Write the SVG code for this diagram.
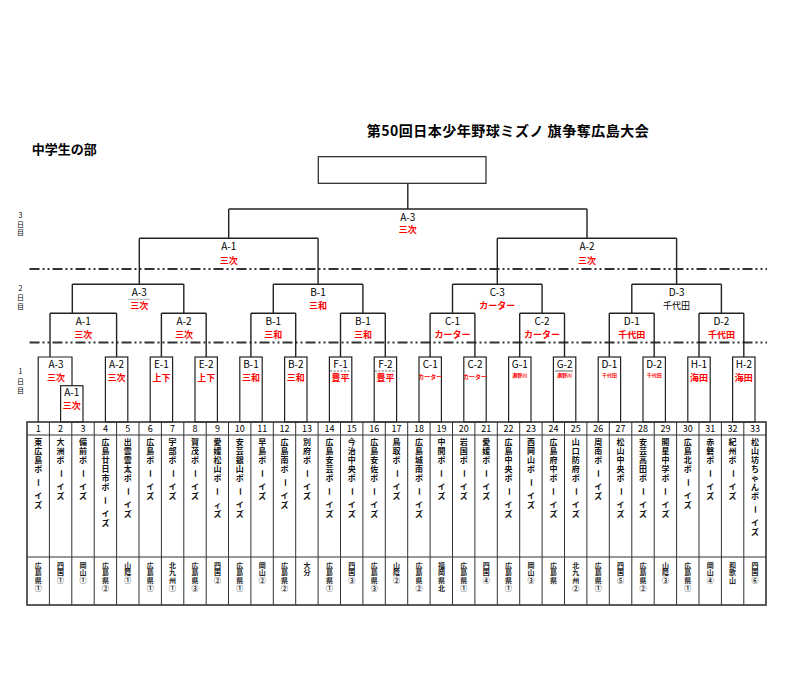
<svg xmlns="http://www.w3.org/2000/svg" width="800" height="687" viewBox="0 0 800 687">
<style>
text{font-family:"Noto Sans CJK JP","Noto Sans",sans-serif}
.ln{stroke:#222;stroke-width:1.4;fill:none}
.bx{stroke:#222;stroke-width:1.2;fill:none}
.dd{stroke:#333;stroke-width:1.8;stroke-dasharray:10 3 2 3 2 3;fill:none}
.tb{stroke:#333;stroke-width:1;fill:none}
.lb{font-size:10px;text-anchor:middle;fill:#000}
.bk{font-size:9px;text-anchor:middle;fill:#000}
.rd{font-size:9px;font-weight:bold;text-anchor:middle;fill:#f00}
.rs{font-size:6px;font-weight:bold;text-anchor:middle;fill:#f00}
.rx{font-size:5px;font-weight:bold;text-anchor:middle;fill:#f00}
.nm{font-size:9px;text-anchor:middle;fill:#000}
.tm{font-size:8px;font-weight:bold;text-anchor:middle;fill:#111}
.pf{font-size:7px;font-weight:bold;text-anchor:middle;fill:#222}
.dy{font-size:7px;text-anchor:middle;fill:#000}
</style>
<rect width="800" height="687" fill="#fff"/>
<text x="366.7" y="136" font-size="14" font-weight="bold" textLength="282" lengthAdjust="spacing">第50回日本少年野球ミズノ 旗争奪広島大会</text>
<text x="31.7" y="154" font-size="13" font-weight="bold" textLength="65" lengthAdjust="spacing">中学生の部</text>
<text class="dy" x="20.5 20.5 20.5" y="217.5 226.5 235">3日目</text>
<text class="dy" x="20.5 20.5 20.5" y="290.8 299.5 309">2日目</text>
<text class="dy" x="20.5 20.5 20.5" y="374 383.5 392.5">1日目</text>
<line class="dd" x1="29.5" y1="269" x2="767" y2="269"/>
<line class="dd" x1="29.5" y1="342.5" x2="767" y2="342.5"/>

<g id="connectors" class="ln">
<path d="M407.8,183.3V209M228.7,209H587M228.7,209V238.3M587,209V238.3M139.3,238.3H318.1M497.3,238.3H676.6M139.3,238.3V284.3M318.1,238.3V284.3M497.3,238.3V284.3M676.6,238.3V284.3"/>
<path d="M72.3,284.3H183.8M273.3,284.3H362.9M452.5,284.3H542.1M631.8,284.3H721.4M72.3,284.3V313.3M183.8,284.3V313.3M273.3,284.3V313.3M362.9,284.3V313.3M452.5,284.3V313.3M542.1,284.3V313.3M631.8,284.3V313.3M721.4,284.3V313.3"/>
<path d="M50,313.3H116.6M161.4,313.3H206.2M250.9,313.3H295.7M340.5,313.3H385.3M430.1,313.3H474.9M519.7,313.3H564.5M609.3,313.3H654.2M699,313.3H743.8"/>
<path d="M50,313.3V357M116.6,313.3V357M161.4,313.3V357M206.2,313.3V357M250.9,313.3V357M295.7,313.3V357M340.5,313.3V357M385.3,313.3V357M430.1,313.3V357M474.9,313.3V357M519.7,313.3V357M564.5,313.3V357M609.3,313.3V357M654.2,313.3V357M699,313.3V357M743.8,313.3V357"/>
</g>

<g id="final"><rect class="bx" x="318.3" y="156.7" width="167.7" height="26.6"/></g>
<g id="m3-A3"><text class="lb" x="407.8" y="220.5">A-3</text><text class="rd" x="407.8" y="233">三次</text></g>
<g id="m3-A1"><text class="lb" x="228.7" y="249.5">A-1</text><text class="rd" x="228.7" y="264">三次</text></g>
<g id="m3-A2"><text class="lb" x="587" y="249.5">A-2</text><text class="rd" x="587" y="264">三次</text></g>

<g id="m2u-A3"><text class="lb" x="139.3" y="295.5">A-3</text><line x1="128" y1="299.3" x2="150" y2="299.3" stroke="#999" stroke-width="0.8"/><text class="rd" x="139.3" y="308.5">三次</text></g>
<g id="m2u-B1"><text class="lb" x="318.1" y="295.5">B-1</text><text class="rd" x="318.1" y="308.5">三和</text></g>
<g id="m2u-C3"><text class="lb" x="497.3" y="295.5">C-3</text><text class="rd" x="497.3" y="308.5">カーター</text></g>
<g id="m2u-D3"><text class="lb" x="676.6" y="295.5">D-3</text><text class="bk" x="676.6" y="308.5">千代田</text></g>

<g id="m2-A1"><text class="lb" x="83.3" y="324.5">A-1</text><text class="rd" x="83.3" y="337.5">三次</text></g>
<g id="m2-A2"><text class="lb" x="184" y="324.5">A-2</text><text class="rd" x="184" y="337.5">三次</text></g>
<g id="m2-B1a"><text class="lb" x="273.3" y="324.5">B-1</text><text class="rd" x="273.3" y="337.5">三和</text></g>
<g id="m2-B1b"><text class="lb" x="362.9" y="324.5">B-1</text><text class="rd" x="362.9" y="337.5">三和</text></g>
<g id="m2-C1"><text class="lb" x="452.5" y="324.5">C-1</text><text class="rd" x="452.5" y="337.5">カーター</text></g>
<g id="m2-C2"><text class="lb" x="542.1" y="324.5">C-2</text><text class="rd" x="542.1" y="337.5">カーター</text></g>
<g id="m2-D1"><text class="lb" x="631.8" y="324.5">D-1</text><text class="rd" x="631.8" y="337.5">千代田</text></g>
<g id="m2-D2"><text class="lb" x="721.4" y="324.5">D-2</text><text class="rd" x="721.4" y="337.5">千代田</text></g>

<g id="r1-A3"><path class="bx" d="M38.2,422V357H72V385.7"/><text class="lb" x="56" y="367.5">A-3</text><text class="rd" x="56" y="380.5">三次</text></g>
<g id="r1-A1"><rect class="bx" x="60.6" y="385.7" width="22.4" height="36.3"/><text class="lb" x="71.8" y="396">A-1</text><text class="rd" x="71.8" y="408.5">三次</text></g>
<g id="r1-A2"><rect class="bx" x="105.4" y="357" width="22.4" height="65"/><text class="lb" x="116.6" y="367.5">A-2</text><text class="rd" x="116.6" y="380.5">三次</text></g>
<g id="r1-E1"><rect class="bx" x="150.2" y="357" width="22.4" height="65"/><text class="lb" x="161.4" y="367.5">E-1</text><text class="rd" x="161.4" y="380.5">上下</text></g>
<g id="r1-E2"><rect class="bx" x="195" y="357" width="22.4" height="65"/><text class="lb" x="206.2" y="367.5">E-2</text><text class="rd" x="206.2" y="380.5">上下</text></g>
<g id="r1-B1"><rect class="bx" x="239.8" y="357" width="22.4" height="65"/><text class="lb" x="251" y="367.5">B-1</text><text class="rd" x="251" y="380.5">三和</text></g>
<g id="r1-B2"><rect class="bx" x="284.6" y="357" width="22.4" height="65"/><text class="lb" x="295.8" y="367.5">B-2</text><text class="rd" x="295.8" y="380.5">三和</text></g>
<g id="r1-F1"><rect class="bx" x="329.4" y="357" width="22.4" height="65"/><text class="lb" x="340.6" y="367.5">F-1</text><line x1="330" y1="371" x2="351.2" y2="371" stroke="#666" stroke-width="1" stroke-dasharray="2 1.5"/><text class="rd" x="340.6" y="380.5">豊平</text></g>
<g id="r1-F2"><rect class="bx" x="374.2" y="357" width="22.4" height="65"/><text class="lb" x="385.4" y="367.5">F-2</text><line x1="374.8" y1="371" x2="396" y2="371" stroke="#666" stroke-width="1" stroke-dasharray="2 1.5"/><text class="rd" x="385.4" y="380.5">豊平</text></g>
<g id="r1-C1"><rect class="bx" x="419" y="357" width="22.4" height="65"/><text class="lb" x="430.2" y="367.5">C-1</text><text class="rs" x="430.2" y="378.8">カーター</text></g>
<g id="r1-C2"><rect class="bx" x="463.8" y="357" width="22.4" height="65"/><text class="lb" x="475" y="367.5">C-2</text><text class="rs" x="475" y="378.8">カーター</text></g>
<g id="r1-G1"><rect class="bx" x="508.6" y="357" width="22.4" height="65"/><text class="lb" x="519.8" y="367.5">G-1</text><text class="rx" x="519.8" y="377.3">瀬野川</text></g>
<g id="r1-G2"><rect class="bx" x="553.4" y="357" width="22.4" height="65"/><text class="lb" x="564.6" y="367.5">G-2</text><line x1="555" y1="371" x2="573" y2="371" stroke="#444" stroke-width="0.8"/><text class="rx" x="564.6" y="377.3">瀬野川</text></g>
<g id="r1-D1"><rect class="bx" x="598.2" y="357" width="22.4" height="65"/><text class="lb" x="609.4" y="367.5">D-1</text><text class="rx" x="609.4" y="377.3">千代田</text></g>
<g id="r1-D2"><rect class="bx" x="643" y="357" width="22.4" height="65"/><text class="lb" x="654.2" y="367.5">D-2</text><text class="rx" x="654.2" y="377.3">千代田</text></g>
<g id="r1-H1"><rect class="bx" x="687.8" y="357" width="22.4" height="65"/><text class="lb" x="699" y="367.5">H-1</text><text class="rd" x="699" y="380.5">海田</text></g>
<g id="r1-H2"><rect class="bx" x="732.6" y="357" width="22.4" height="65"/><text class="lb" x="743.8" y="367.5">H-2</text><text class="rd" x="743.8" y="380.5">海田</text></g>

<g id="table" class="tb">
<rect x="27" y="422" width="739" height="183" stroke-width="1.6"/>
<path d="M27,435H766M27,557H766M49.4,422V605M71.8,422V605M94.2,422V605M116.6,422V605M139,422V605M161.4,422V605M183.8,422V605M206.2,422V605M228.5,422V605M250.9,422V605M273.3,422V605M295.7,422V605M318.1,422V605M340.5,422V605M362.9,422V605M385.3,422V605M407.7,422V605M430.1,422V605M452.5,422V605M474.9,422V605M497.3,422V605M519.7,422V605M542.1,422V605M564.5,422V605M586.9,422V605M609.3,422V605M631.8,422V605M654.2,422V605M676.6,422V605M699,422V605M721.4,422V605M743.8,422V605"/>
</g>

<g id="team-1" transform="translate(38.2,0)"><text class="nm" x="0" y="432">1</text><text class="tm" x="0 0 0 0 1 0 0" y="445 454 463 472 478.5 499 508" rotate="0 0 0 0 90 0 0">東広島ボーイズ</text><text class="pf" x="0 0 0 0" y="567.6 575.3 583 590.6">広島県①</text></g>
<g id="team-2" transform="translate(60.6,0)"><text class="nm" x="0" y="432">2</text><text class="tm" x="0 0 0 1 0 0" y="445 454 463 469.5 490 499" rotate="0 0 0 90 0 0">大洲ボーイズ</text><text class="pf" x="0 0 0" y="567.6 575.3 583">四国①</text></g>
<g id="team-3" transform="translate(83,0)"><text class="nm" x="0" y="432">3</text><text class="tm" x="0 0 0 1 0 0" y="445 454 463 469.5 490 499" rotate="0 0 0 90 0 0">備前ボーイズ</text><text class="pf" x="0 0 0" y="567.6 575.3 583">岡山①</text></g>
<g id="team-4" transform="translate(105.4,0)"><text class="nm" x="0" y="432">4</text><text class="tm" x="0 0 0 0 0 0 1 0 0" y="445 454 463 472 481 490 496.5 517 526" rotate="0 0 0 0 0 0 90 0 0">広島廿日市ボーイズ</text><text class="pf" x="0 0 0 0" y="567.6 575.3 583 590.6">広島県②</text></g>
<g id="team-5" transform="translate(127.8,0)"><text class="nm" x="0" y="432">5</text><text class="tm" x="0 0 0 0 0 1 0 0" y="445 454 463 472 481 487.5 508 517" rotate="0 0 0 0 0 90 0 0">出雲雲太ボーイズ</text><text class="pf" x="0 0 0" y="567.6 575.3 583">山陰①</text></g>
<g id="team-6" transform="translate(150.2,0)"><text class="nm" x="0" y="432">6</text><text class="tm" x="0 0 0 1 0 0" y="445 454 463 469.5 490 499" rotate="0 0 0 90 0 0">広島ボーイズ</text><text class="pf" x="0 0 0 0" y="567.6 575.3 583 590.6">広島県①</text></g>
<g id="team-7" transform="translate(172.6,0)"><text class="nm" x="0" y="432">7</text><text class="tm" x="0 0 0 1 0 0" y="445 454 463 469.5 490 499" rotate="0 0 0 90 0 0">宇部ボーイズ</text><text class="pf" x="0 0 0 0" y="567.6 575.3 583 590.6">北九州①</text></g>
<g id="team-8" transform="translate(195,0)"><text class="nm" x="0" y="432">8</text><text class="tm" x="0 0 0 1 0 0" y="445 454 463 469.5 490 499" rotate="0 0 0 90 0 0">賀茂ボーイズ</text><text class="pf" x="0 0 0 0" y="567.6 575.3 583 590.6">広島県③</text></g>
<g id="team-9" transform="translate(217.4,0)"><text class="nm" x="0" y="432">9</text><text class="tm" x="0 0 0 0 0 1 0 0" y="445 454 463 472 481 487.5 508 517" rotate="0 0 0 0 0 90 0 0">愛媛松山ボーィズ</text><text class="pf" x="0 0 0" y="567.6 575.3 583">四国②</text></g>
<g id="team-10" transform="translate(239.8,0)"><text class="nm" x="0" y="432">10</text><text class="tm" x="0 0 0 0 0 1 0 0" y="445 454 463 472 481 487.5 508 517" rotate="0 0 0 0 0 90 0 0">安芸銀山ボーイズ</text><text class="pf" x="0 0 0 0" y="567.6 575.3 583 590.6">広島県①</text></g>
<g id="team-11" transform="translate(262.2,0)"><text class="nm" x="0" y="432">11</text><text class="tm" x="0 0 0 1 0 0" y="445 454 463 469.5 490 499" rotate="0 0 0 90 0 0">早島ボーイズ</text><text class="pf" x="0 0 0" y="567.6 575.3 583">岡山②</text></g>
<g id="team-12" transform="translate(284.6,0)"><text class="nm" x="0" y="432">12</text><text class="tm" x="0 0 0 0 1 0 0" y="445 454 463 472 478.5 499 508" rotate="0 0 0 0 90 0 0">広島南ボーイズ</text><text class="pf" x="0 0 0 0" y="567.6 575.3 583 590.6">広島県②</text></g>
<g id="team-13" transform="translate(307,0)"><text class="nm" x="0" y="432">13</text><text class="tm" x="0 0 0 1 0 0" y="445 454 463 469.5 490 499" rotate="0 0 0 90 0 0">別府ボーイズ</text><text class="pf" x="0 0" y="567.6 575.3">大分</text></g>
<g id="team-14" transform="translate(329.4,0)"><text class="nm" x="0" y="432">14</text><text class="tm" x="0 0 0 0 0 1 0 0" y="445 454 463 472 481 487.5 508 517" rotate="0 0 0 0 0 90 0 0">広島安芸ボーイズ</text><text class="pf" x="0 0 0 0" y="567.6 575.3 583 590.6">広島県①</text></g>
<g id="team-15" transform="translate(351.8,0)"><text class="nm" x="0" y="432">15</text><text class="tm" x="0 0 0 0 0 1 0 0" y="445 454 463 472 481 487.5 508 517" rotate="0 0 0 0 0 90 0 0">今治中央ボーイズ</text><text class="pf" x="0 0 0" y="567.6 575.3 583">四国③</text></g>
<g id="team-16" transform="translate(374.2,0)"><text class="nm" x="0" y="432">16</text><text class="tm" x="0 0 0 0 0 1 0 0" y="445 454 463 472 481 487.5 508 517" rotate="0 0 0 0 0 90 0 0">広島安佐ボーイズ</text><text class="pf" x="0 0 0 0" y="567.6 575.3 583 590.6">広島県③</text></g>
<g id="team-17" transform="translate(396.6,0)"><text class="nm" x="0" y="432">17</text><text class="tm" x="0 0 0 1 0 0" y="445 454 463 469.5 490 499" rotate="0 0 0 90 0 0">鳥取ボーイズ</text><text class="pf" x="0 0 0" y="567.6 575.3 583">山陰②</text></g>
<g id="team-18" transform="translate(419,0)"><text class="nm" x="0" y="432">18</text><text class="tm" x="0 0 0 0 0 1 0 0" y="445 454 463 472 481 487.5 508 517" rotate="0 0 0 0 0 90 0 0">広島城南ボーイズ</text><text class="pf" x="0 0 0 0" y="567.6 575.3 583 590.6">広島県②</text></g>
<g id="team-19" transform="translate(441.4,0)"><text class="nm" x="0" y="432">19</text><text class="tm" x="0 0 0 1 0 0" y="445 454 463 469.5 490 499" rotate="0 0 0 90 0 0">中間ボーイズ</text><text class="pf" x="0 0 0 0" y="567.6 575.3 583 590.6">福岡県北</text></g>
<g id="team-20" transform="translate(463.8,0)"><text class="nm" x="0" y="432">20</text><text class="tm" x="0 0 0 1 0 0" y="445 454 463 469.5 490 499" rotate="0 0 0 90 0 0">岩国ボーイズ</text><text class="pf" x="0 0 0 0" y="567.6 575.3 583 590.6">広島県①</text></g>
<g id="team-21" transform="translate(486.2,0)"><text class="nm" x="0" y="432">21</text><text class="tm" x="0 0 0 1 0 0" y="445 454 463 469.5 490 499" rotate="0 0 0 90 0 0">愛媛ボーイズ</text><text class="pf" x="0 0 0" y="567.6 575.3 583">四国④</text></g>
<g id="team-22" transform="translate(508.6,0)"><text class="nm" x="0" y="432">22</text><text class="tm" x="0 0 0 0 0 1 0 0" y="445 454 463 472 481 487.5 508 517" rotate="0 0 0 0 0 90 0 0">広島中央ボーイズ</text><text class="pf" x="0 0 0 0" y="567.6 575.3 583 590.6">広島県①</text></g>
<g id="team-23" transform="translate(531,0)"><text class="nm" x="0" y="432">23</text><text class="tm" x="0 0 0 0 1 0 0" y="445 454 463 472 478.5 499 508" rotate="0 0 0 0 90 0 0">西岡山ボーイズ</text><text class="pf" x="0 0 0" y="567.6 575.3 583">岡山③</text></g>
<g id="team-24" transform="translate(553.4,0)"><text class="nm" x="0" y="432">24</text><text class="tm" x="0 0 0 0 0 1 0 0" y="445 454 463 472 481 487.5 508 517" rotate="0 0 0 0 0 90 0 0">広島府中ボーイズ</text><text class="pf" x="0 0 0" y="567.6 575.3 583">広島県</text></g>
<g id="team-25" transform="translate(575.8,0)"><text class="nm" x="0" y="432">25</text><text class="tm" x="0 0 0 0 0 1 0 0" y="445 454 463 472 481 487.5 508 517" rotate="0 0 0 0 0 90 0 0">山口防府ボーイズ</text><text class="pf" x="0 0 0 0" y="567.6 575.3 583 590.6">北九州②</text></g>
<g id="team-26" transform="translate(598.2,0)"><text class="nm" x="0" y="432">26</text><text class="tm" x="0 0 0 1 0 0" y="445 454 463 469.5 490 499" rotate="0 0 0 90 0 0">周南ボーイズ</text><text class="pf" x="0 0 0 0" y="567.6 575.3 583 590.6">広島県①</text></g>
<g id="team-27" transform="translate(620.6,0)"><text class="nm" x="0" y="432">27</text><text class="tm" x="0 0 0 0 0 1 0 0" y="445 454 463 472 481 487.5 508 517" rotate="0 0 0 0 0 90 0 0">松山中央ボーイズ</text><text class="pf" x="0 0 0" y="567.6 575.3 583">四国⑤</text></g>
<g id="team-28" transform="translate(643,0)"><text class="nm" x="0" y="432">28</text><text class="tm" x="0 0 0 0 0 1 0 0" y="445 454 463 472 481 487.5 508 517" rotate="0 0 0 0 0 90 0 0">安芸高田ボーイズ</text><text class="pf" x="0 0 0 0" y="567.6 575.3 583 590.6">広島県②</text></g>
<g id="team-29" transform="translate(665.4,0)"><text class="nm" x="0" y="432">29</text><text class="tm" x="0 0 0 0 0 1 0 0" y="445 454 463 472 481 487.5 508 517" rotate="0 0 0 0 0 90 0 0">開星中学ボーイズ</text><text class="pf" x="0 0 0" y="567.6 575.3 583">山陰③</text></g>
<g id="team-30" transform="translate(687.8,0)"><text class="nm" x="0" y="432">30</text><text class="tm" x="0 0 0 0 1 0 0" y="445 454 463 472 478.5 499 508" rotate="0 0 0 0 90 0 0">広島北ボーイズ</text><text class="pf" x="0 0 0 0" y="567.6 575.3 583 590.6">広島県①</text></g>
<g id="team-31" transform="translate(710.2,0)"><text class="nm" x="0" y="432">31</text><text class="tm" x="0 0 0 1 0 0" y="445 454 463 469.5 490 499" rotate="0 0 0 90 0 0">赤磐ボーイズ</text><text class="pf" x="0 0 0" y="567.6 575.3 583">岡山④</text></g>
<g id="team-32" transform="translate(732.6,0)"><text class="nm" x="0" y="432">32</text><text class="tm" x="0 0 0 1 0 0" y="445 454 463 469.5 490 499" rotate="0 0 0 90 0 0">紀州ボーイズ</text><text class="pf" x="0 0 0" y="567.6 575.3 583">和歌山</text></g>
<g id="team-33" transform="translate(755,0)"><text class="nm" x="0" y="432">33</text><text class="tm" x="0 0 0 0 0 0 0 1 0 0" y="445 454 463 472 481 490 499 505.5 526 535" rotate="0 0 0 0 0 0 0 90 0 0">松山坊ちゃんボーイズ</text><text class="pf" x="0 0 0" y="567.6 575.3 583">四国⑥</text></g>
</svg>
